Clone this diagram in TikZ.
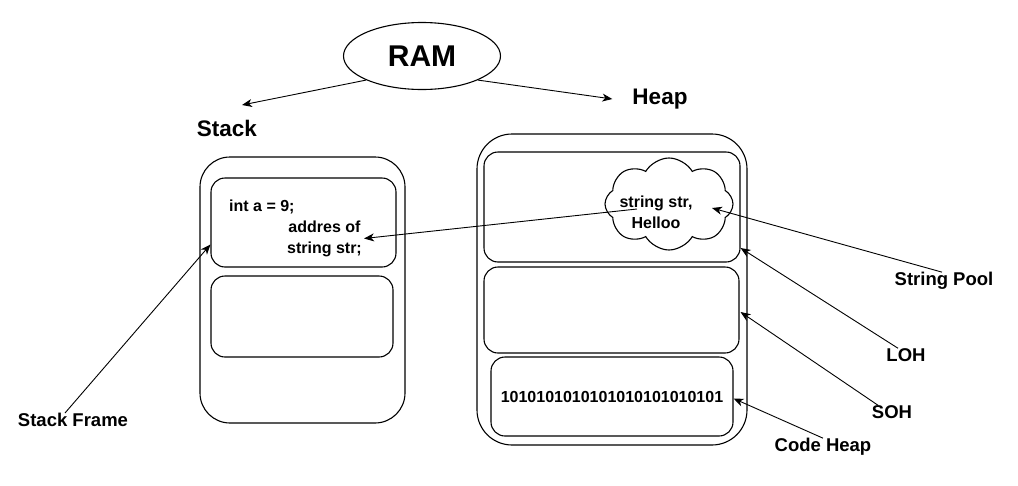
\documentclass[tikz,border=0pt]{standalone}
\usepackage{fontspec}
\setmainfont{Liberation Sans}
\usetikzlibrary{arrows.meta,shapes.geometric,shapes.symbols}
\newcommand{\lbl}[1]{\textbf{#1}}

\tikzset{
  mem/.style={draw, line width=1.1pt, inner sep=0pt},
  frame/.style={mem, rounded corners=14pt},
  tag/.style={inner sep=0pt, font=\fontsize{18.5}{20}\selectfont},
  txt/.style={inner sep=0pt, font=\fontsize{16}{21}\selectfont},
  ptr/.style={line width=0.9pt, -{Stealth[length=10pt,width=8pt,inset=3pt]}}
}

\begin{document}
\begin{tikzpicture}[x=1pt, y=-1pt]
    \useasboundingbox (0,0) rectangle (1018,485);

    % RAM and its two parts
    \node[mem, ellipse, minimum width=157pt, minimum height=67pt] (ram) at (422,56)
      {\fontsize{30}{32}\selectfont\lbl{RAM}};
    \node[inner sep=0pt, font=\fontsize{22.5}{24}\selectfont] (stack) at (227,128) {\lbl{Stack}};
    \node[inner sep=0pt, font=\fontsize{22.5}{24}\selectfont] (heap) at (660,99) {\lbl{Heap}};

    % stack
    \node[frame, rounded corners=30pt, minimum width=205pt, minimum height=266pt] (stackbox) at (302.5,290) {};
    \node[frame, minimum width=185pt, minimum height=89pt] (frame1) at (303.5,222.5) {};
    \node[frame, minimum width=182pt, minimum height=81pt] (frame2) at (302,316.5) {};
    \node[txt, anchor=west] (inta) at (229,207) {\lbl{int a = 9;}};
    \node[txt, align=center] (addr) at (324.5,238.5) {\lbl{addres of}\\\lbl{string str;}};

    % heap
    \node[frame, rounded corners=35pt, minimum width=270pt, minimum height=311pt] (heapbox) at (612,289.5) {};
    \node[frame, minimum width=256pt, minimum height=110pt] (lohbox) at (612,207) {};
    \node[frame, minimum width=255pt, minimum height=86pt] (sohbox) at (611.5,310) {};
    \node[frame, minimum width=242pt, minimum height=79pt] (codebox) at (612,396.5) {};
    \node[mem, cloud, cloud puffs=8, cloud puff arc=120, aspect=1.4,
          minimum width=128pt, minimum height=92pt] (pool) at (669,204) {};
    \node[txt, align=center] (pooltxt) at (656,212) {\lbl{string str,}\\\lbl{Helloo}};
    \node[txt] (bits) at (612,397) {\lbl{1010101010101010101010101}};

    % labels
    \node[tag] (sframe) at (73,420) {\lbl{Stack Frame}};
    \node[tag] (spool) at (944,281) {\lbl{String Pool}};
    \node[tag] (loh) at (906,355) {\lbl{LOH}};
    \node[tag] (soh) at (892,412) {\lbl{SOH}};
    \node[tag] (cheap) at (823,447) {\lbl{Code Heap}};

    % arrows
    \draw[ptr] (ram.south west) -- ([xshift=15pt,yshift=23pt]stack.center);
    \draw[ptr] (ram.south east) -- ([xshift=-20pt]heap.west);
    \draw[ptr] ([xshift=-19pt,yshift=3pt]pooltxt.center) -- ([xshift=2pt]addr.east);
    \draw[ptr] ([xshift=-8pt]sframe.north) -- ([yshift=-22pt]frame1.west);
    \draw[ptr] ([xshift=-2pt]spool.north) -- ([xshift=43pt,yshift=-4pt]pool.center);
    \draw[ptr] ([xshift=-8pt]loh.north) -- ([yshift=-41pt]lohbox.east);
    \draw[ptr] ([xshift=-14pt]soh.north) -- ([xshift=1pt,yshift=-2pt]sohbox.east);
    \draw[ptr] (cheap.north) -- ([yshift=-2pt]codebox.east);
\end{tikzpicture}
\end{document}
